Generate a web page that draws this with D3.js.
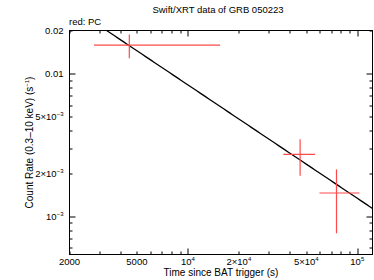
<!DOCTYPE html>
<meta charset="utf-8">
<html>
<head>
<style>
  body { margin: 0; background: #fff; }
  text { font-family: "Liberation Sans", Arial, sans-serif; font-size: 9.5px; fill: #000; }
  text.axislabel { font-size: 10px; }
</style>
<script src="https://d3js.org/d3.v7.min.js"></script>
</head>
<body>
<div id="chart"></div>
<script>
// data (time in s, rate in counts/s)
var pcTime    = [4510, 45970, 75400];
var pcTimeLo  = [2790, 36600, 59800];
var pcTimeHi  = [15500, 56400, 103000];
var pcRate    = [0.0158, 0.00271, 0.001456];
var pcRateLo  = [0.0128, 0.00192, 0.00076];
var pcRateHi  = [0.01875, 0.00347, 0.00213];

// power-law fit: rate = fitNorm * (t / 1e4)^-fitIndex
var fitNorm = 0.00832, fitIndex = 0.794;

var xTickLabels = [[2000, "2000"], [5000, "5000"], [1e4, "10", "4"], [2e4, "2×10", "4"], [5e4, "5×10", "4"], [1e5, "10", "5"]];
var yTickLabels = [[0.02, "0.02"], [0.01, "0.01"], [5e-3, "5×10", "−3"], [2e-3, "2×10", "−3"], [1e-3, "10", "−3"]];

var W = 374, H = 280;
var margin = {top: 30.5, right: 1.5, bottom: 25.5, left: 69.5};
var width = W - margin.left - margin.right,
    height = H - margin.top - margin.bottom;

var svg = d3.select("#chart").append("svg")
  .attr("width", W).attr("height", H);

var g = svg.append("g")
  .attr("transform", "translate(" + margin.left + "," + margin.top + ")");

var x = d3.scaleLog().domain([2000, 1.23e5]).range([0, width]);
var y = d3.scaleLog().domain([5.4e-4, 0.02]).range([height, 0]);

g.append("clipPath").attr("id", "clip")
  .append("rect").attr("width", width).attr("height", height);

// ticks: every integer multiple within each decade, longer at decades
function logTicks(domain) {
  var out = [];
  for (var e = -5; e <= 6; e++) {
    for (var m = 1; m <= 9; m++) {
      var v = m * Math.pow(10, e);
      if (v >= domain[0] * 0.999 && v <= domain[1] * 1.001) out.push({v: v, major: m === 1});
    }
  }
  return out;
}

var xt = logTicks(x.domain());
var yt = logTicks(y.domain());

var ticks = g.append("g").attr("stroke", "#000").attr("stroke-width", 1);
xt.forEach(function(t) {
  var px = Math.round(x(t.v)) + 0.5, len = t.major ? 6 : 3;
  ticks.append("line").attr("x1", px).attr("x2", px).attr("y1", height).attr("y2", height - len);
  ticks.append("line").attr("x1", px).attr("x2", px).attr("y1", 0).attr("y2", len);
});
yt.forEach(function(t) {
  var py = Math.round(y(t.v)) + 0.5, len = t.major ? 6 : 3;
  ticks.append("line").attr("y1", py).attr("y2", py).attr("x1", 0).attr("x2", len);
  ticks.append("line").attr("y1", py).attr("y2", py).attr("x1", width).attr("x2", width - len);
});

// tick labels
xTickLabels.forEach(function(d) {
  var t = g.append("text").attr("x", x(d[0])).attr("y", height + 10)
    .attr("text-anchor", "middle");
  t.append("tspan").text(d[1]);
  if (d[2]) t.append("tspan").attr("dy", -3.5).style("font-size", "6px").text(d[2]);
});
yTickLabels.forEach(function(d) {
  var t = g.append("text").attr("x", -6).attr("y", y(d[0]) + 3.5)
    .attr("text-anchor", "end");
  t.append("tspan").text(d[1]);
  if (d[2]) t.append("tspan").attr("dy", -3.5).style("font-size", "6px").text(d[2]);
});

// fit line
var lineT = d3.range(0, 101).map(function(i) {
  return Math.pow(10, Math.log10(2000) + i / 100 * (Math.log10(1.23e5) - Math.log10(2000)));
});
g.append("path")
  .datum(lineT)
  .attr("clip-path", "url(#clip)")
  .attr("fill", "none").attr("stroke", "#000").attr("stroke-width", 1.3)
  .attr("d", d3.line()
    .x(function(t) { return x(t); })
    .y(function(t) { return y(fitNorm * Math.pow(t / 1e4, -fitIndex)); }));

// error bars
var eb = g.append("g").attr("stroke", "#ff4a4a").attr("stroke-width", 1.2);
pcTime.forEach(function(t, i) {
  eb.append("line")
    .attr("x1", x(pcTimeLo[i])).attr("x2", x(pcTimeHi[i]))
    .attr("y1", y(pcRate[i])).attr("y2", y(pcRate[i]));
  eb.append("line")
    .attr("x1", x(t)).attr("x2", x(t))
    .attr("y1", y(pcRateLo[i])).attr("y2", y(pcRateHi[i]));
});

// frame
g.append("rect").attr("width", width).attr("height", height)
  .attr("fill", "none").attr("stroke", "#000").attr("stroke-width", 1);

// titles
svg.append("text").attr("x", 218).attr("y", 13).attr("text-anchor", "middle")
  .text("Swift/XRT data of GRB 050223");
svg.append("text").attr("x", 69).attr("y", 25).text("red: PC");
svg.append("text").attr("class", "axislabel").attr("x", margin.left + width / 2).attr("y", 276)
  .attr("text-anchor", "middle").text("Time since BAT trigger (s)");

var yl = svg.append("text").attr("class", "axislabel")
  .attr("transform", "translate(32.5," + (margin.top + height / 2) + ") rotate(-90)")
  .attr("text-anchor", "middle");
yl.append("tspan").text("Count Rate (0.3–10 keV) (s");
yl.append("tspan").attr("dy", -3.5).style("font-size", "6px").text("−1");
yl.append("tspan").attr("dy", 3.5).text(")");
</script>
</body>
</html>
